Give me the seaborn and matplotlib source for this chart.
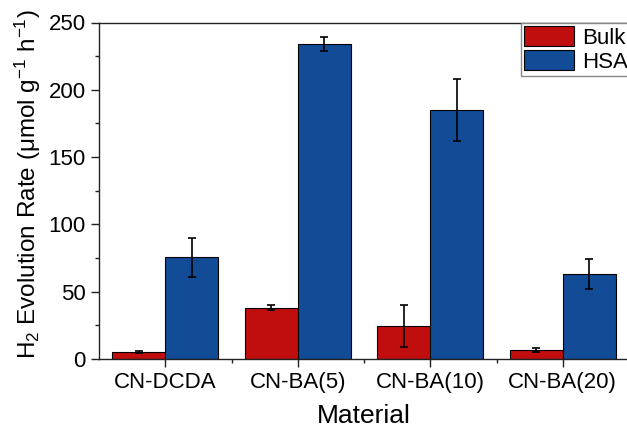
import numpy as np
import pandas as pd
import matplotlib
matplotlib.use("Agg")
import matplotlib.pyplot as plt
import seaborn as sns

# data
materials = ["CN-DCDA", "CN-BA(5)", "CN-BA(10)", "CN-BA(20)"]
groups = ["Bulk", "HSA"]
bulk_rate = [4.9, 38.2, 24.6, 6.5]
bulk_err = [0.8, 1.6, 15.6, 1.6]
hsa_rate = [75.5, 234.0, 185.0, 63.0]
hsa_err = [14.5, 5.0, 23.0, 11.3]

colors = {"Bulk": "#C00E0E", "HSA": "#124B96"}

sns.set_style("ticks")
plt.rcParams["font.family"] = ["Liberation Sans", "DejaVu Sans"]
plt.rcParams["mathtext.fontset"] = "custom"
plt.rcParams["mathtext.rm"] = "Liberation Sans"
plt.rcParams["mathtext.it"] = "Liberation Sans:italic"
for k in ["text.color", "axes.labelcolor", "xtick.color", "ytick.color"]:
    plt.rcParams[k] = "black"

df = pd.DataFrame({
    "Material": materials * 2,
    "Sample": ["Bulk"] * 4 + ["HSA"] * 4,
    "Rate": bulk_rate + hsa_rate,
})
errs = {"Bulk": bulk_err, "HSA": hsa_err}

fig = plt.figure(figsize=(6.27, 4.29), dpi=100)
ax = fig.add_axes([99 / 627, 1 - 359 / 429, 530 / 627, 336.5 / 429])

sns.barplot(data=df, x="Material", y="Rate", hue="Sample", order=materials,
            hue_order=groups, palette=colors, width=0.8, gap=0,
            errorbar=None, edgecolor="black", linewidth=0.8,
            saturation=1, ax=ax)

# error bars placed on the bars seaborn drew
for cont, g in zip(ax.containers, groups):
    xs = [b.get_x() + b.get_width() / 2 for b in cont]
    ys = [b.get_height() for b in cont]
    ax.errorbar(xs, ys, yerr=errs[g], fmt="none", ecolor="black",
                elinewidth=1.2, capsize=3, capthick=1.2, zorder=5)

ax.set_xlim(-0.5, 3.5)
ax.set_ylim(0, 250)
ax.set_yticks(np.arange(0, 251, 50))
ax.set_yticks(np.arange(25, 250, 50), minor=True)
ax.set_xticks(np.arange(0.5, 3.0, 1.0), minor=True)

for s in ax.spines.values():
    s.set_visible(True)
    s.set_linewidth(1.0)
    s.set_color("#222222")

ax.tick_params(axis="both", which="major", labelsize=16, length=6,
               width=1.0, direction="out", color="#222222",
               labelcolor="black")
ax.tick_params(axis="both", which="minor", length=3, width=1.0,
               direction="out", color="#222222")

ax.set_xlabel("Material", fontsize=19, labelpad=8, color="black")
ax.set_ylabel("H$_2$ Evolution Rate (μmol g$^{-1}$ h$^{-1}$)",
              fontsize=17.5, color="black")
ax.yaxis.set_label_coords(-0.105, 0.52)

handles, labels = ax.get_legend_handles_labels()
leg = ax.legend(handles, labels, loc="upper left",
                bbox_to_anchor=(521 / 627, 1 - 22.7 / 429),
                bbox_transform=fig.transFigure, borderaxespad=0,
                fontsize=16, frameon=True, fancybox=False,
                edgecolor="#888888", framealpha=1, handlelength=2.25,
                handleheight=1.0, labelspacing=0.08, borderpad=0.15,
                handletextpad=0.35)
for t in leg.get_texts():
    t.set_color("black")

fig.savefig("out.png", dpi=100)
